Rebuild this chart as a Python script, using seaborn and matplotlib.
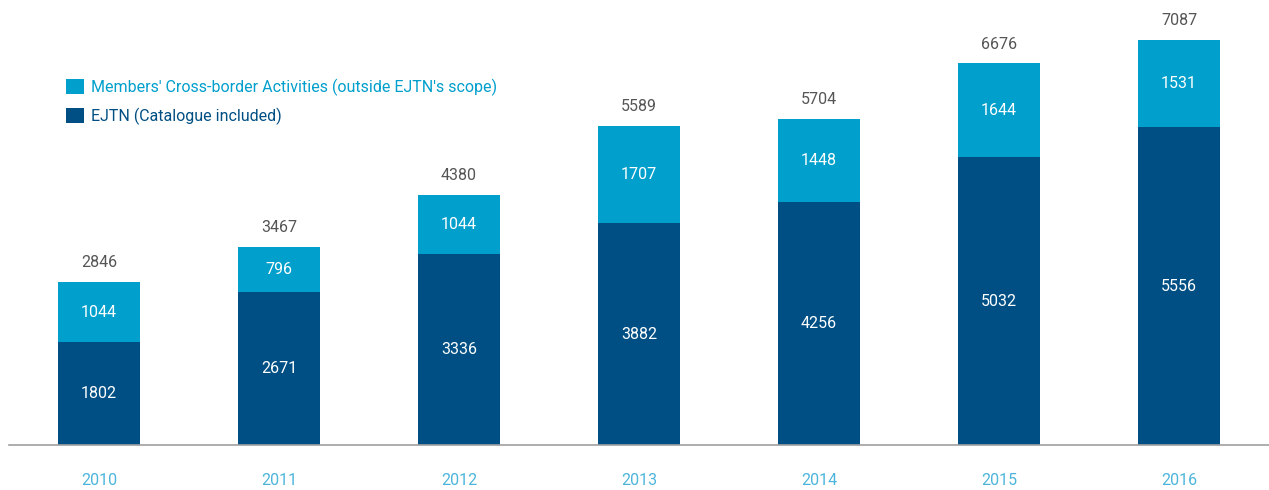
import matplotlib
matplotlib.use("Agg")
import matplotlib.pyplot as plt
import seaborn as sns
import pandas as pd
from matplotlib.patches import Patch

years = ["2010", "2011", "2012", "2013", "2014", "2015", "2016"]
ejtn = [1802, 2671, 3336, 3882, 4256, 5032, 5556]
members = [1044, 796, 1044, 1707, 1448, 1644, 1531]
totals = [2846, 3467, 4380, 5589, 5704, 6676, 7087]

label_members = "Members' Cross-border Activities (outside EJTN's scope)"
label_ejtn = "EJTN (Catalogue included)"

LIGHT = "#009FCC"
DARK = "#004F84"
YEARC = "#4DB5DC"
GRAY = "#555555"

sns.set_theme(style="white")
plt.rcParams['font.family'] = ['Roboto', 'DejaVu Sans']
FS = 11.5

df = pd.DataFrame({"year": years, "ejtn": ejtn, "members": members, "total": totals})

fig = plt.figure(figsize=(12.69, 4.9), dpi=100)
ax = fig.add_axes([9 / 1269, 1 - 445 / 490, 1 - 9 / 1269, 445 / 490])

sns.barplot(data=df, x="year", y="total", color=LIGHT, width=0.455, ax=ax,
            saturation=1, linewidth=0)
sns.barplot(data=df, x="year", y="ejtn", color=DARK, width=0.455, ax=ax,
            saturation=1, linewidth=0)

ax.set_xlim(-0.5, 6.5)
ax.set_ylim(0, 7787)
for s in ["top", "right", "left"]:
    ax.spines[s].set_visible(False)
ax.spines["bottom"].set_color("#a0a0a0")
ax.spines["bottom"].set_linewidth(1.2)
ax.set_yticks([])
ax.set_ylabel("")
ax.set_xlabel("")
ax.tick_params(axis="x", length=0, pad=20, labelsize=FS, labelcolor=YEARC)

for i in range(len(years)):
    ax.text(i, ejtn[i] / 2, str(ejtn[i]), ha="center", va="center",
            color="white", fontsize=FS)
    ax.text(i, ejtn[i] + members[i] / 2, str(members[i]), ha="center", va="center",
            color="white", fontsize=FS)
    ax.annotate(str(totals[i]), (i, totals[i]), xytext=(0, 14),
                textcoords="offset points", ha="center", va="center",
                color=GRAY, fontsize=FS)

handles = [Patch(facecolor=LIGHT, edgecolor="none"), Patch(facecolor=DARK, edgecolor="none")]
leg = ax.legend(handles, [label_members, label_ejtn], loc="upper left",
                bbox_to_anchor=(52 / 1269, 1 - 64 / 490), bbox_transform=fig.transFigure,
                frameon=False, fontsize=FS, handlelength=1.1, handleheight=1.1,
                handletextpad=0.45, labelspacing=0.75,
                labelcolor=[LIGHT, DARK])

fig.savefig("out.png", dpi=100)
